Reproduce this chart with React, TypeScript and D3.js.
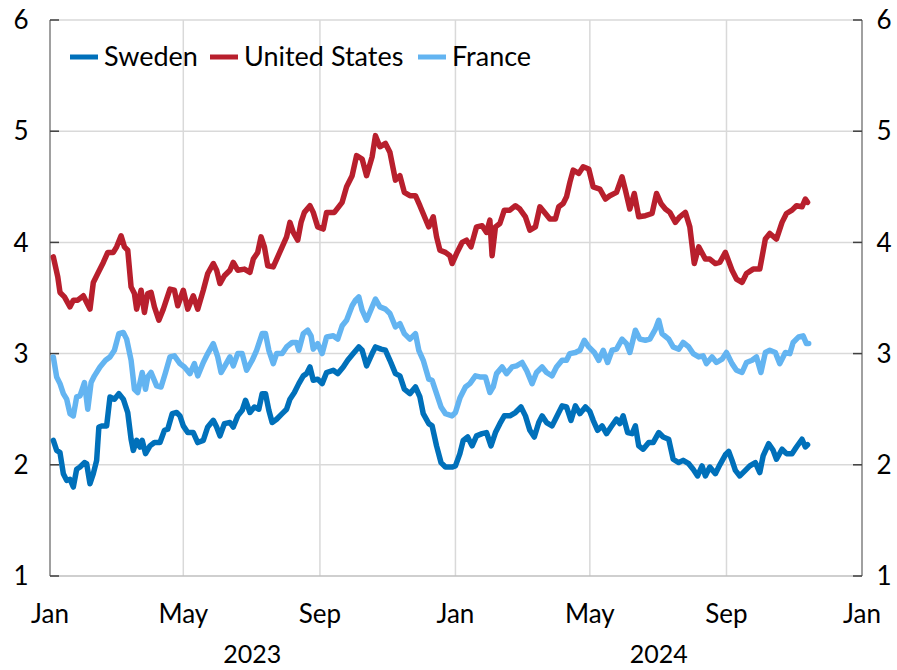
import React from 'react';
import * as d3 from 'd3';

// [days since 1 Jan 2023, percent]
const sweden: [number, number][] = [
  [3, 2.22], [6, 2.13], [9, 2.11], [12, 1.92], [15, 1.86], [18, 1.87], [21, 1.8], [24, 1.96],
  [27, 1.98], [31, 2.02], [33, 2.01], [36, 1.83], [39, 1.92], [42, 2.04], [44, 2.34], [47, 2.35],
  [51, 2.35], [54, 2.61], [58, 2.59], [62, 2.64], [66, 2.59], [70, 2.47], [73, 2.23], [75, 2.13],
  [78, 2.22], [81, 2.16], [83, 2.22], [86, 2.1], [90, 2.17], [94, 2.2], [99, 2.2], [103, 2.31],
  [106, 2.32], [110, 2.46], [114, 2.47], [117, 2.44], [120, 2.35], [124, 2.29], [129, 2.29],
  [133, 2.2], [138, 2.22], [142, 2.34], [147, 2.4], [150, 2.34], [153, 2.26], [157, 2.37],
  [162, 2.38], [165, 2.34], [169, 2.44], [173, 2.49], [176, 2.58], [180, 2.47], [184, 2.52],
  [188, 2.5], [191, 2.64], [194, 2.64], [197, 2.49], [200, 2.38], [204, 2.41], [209, 2.46],
  [213, 2.5], [216, 2.59], [220, 2.65], [224, 2.73], [228, 2.8], [231, 2.82], [234, 2.88],
  [237, 2.76], [241, 2.77], [245, 2.73], [249, 2.83], [255, 2.85], [259, 2.82], [264, 2.88],
  [268, 2.94], [273, 3.0], [278, 3.06], [281, 3.03], [285, 2.89], [290, 3.0], [293, 3.06],
  [298, 3.04], [302, 3.03], [306, 2.94], [311, 2.82], [315, 2.8], [319, 2.68], [324, 2.64],
  [329, 2.7], [333, 2.61], [336, 2.46], [341, 2.37], [344, 2.35], [348, 2.17], [352, 2.02],
  [356, 1.98], [362, 1.98], [365, 1.99], [369, 2.1], [372, 2.22], [376, 2.25], [380, 2.17],
  [384, 2.26], [389, 2.28], [393, 2.29], [397, 2.17], [401, 2.29], [405, 2.37], [409, 2.44],
  [414, 2.44], [419, 2.47], [424, 2.52], [428, 2.44], [432, 2.31], [436, 2.25], [440, 2.38],
  [443, 2.44], [447, 2.38], [452, 2.35], [456, 2.43], [461, 2.53], [465, 2.52], [469, 2.4],
  [473, 2.53], [477, 2.46], [482, 2.52], [486, 2.48], [489, 2.4], [493, 2.31], [497, 2.35],
  [501, 2.28], [505, 2.34], [510, 2.41], [513, 2.37], [516, 2.44], [520, 2.29], [524, 2.28],
  [527, 2.35], [530, 2.17], [534, 2.14], [539, 2.2], [543, 2.2], [548, 2.29], [552, 2.25],
  [557, 2.23], [561, 2.05], [566, 2.02], [570, 2.04], [575, 2.01], [579, 1.96], [583, 1.9],
  [587, 1.99], [590, 1.9], [594, 1.98], [599, 1.92], [603, 2.0], [608, 2.09], [611, 2.12],
  [614, 2.04], [617, 1.95], [621, 1.9], [626, 1.95], [630, 1.99], [635, 2.02], [639, 1.93],
  [642, 2.08], [647, 2.19], [651, 2.13], [654, 2.05], [659, 2.14], [663, 2.1], [668, 2.1],
  [672, 2.16], [677, 2.23], [680, 2.16], [682, 2.18],
];

const unitedStates: [number, number][] = [
  [3, 3.87], [7, 3.69], [9, 3.55], [13, 3.51], [18, 3.42], [21, 3.48], [25, 3.48], [30, 3.52],
  [33, 3.46], [36, 3.4], [39, 3.64], [43, 3.72], [48, 3.82], [52, 3.91], [57, 3.91], [60, 3.96],
  [64, 4.06], [67, 3.96], [70, 3.93], [73, 3.6], [76, 3.54], [78, 3.4], [82, 3.57], [85, 3.37],
  [88, 3.54], [91, 3.55], [94, 3.42], [98, 3.3], [102, 3.4], [108, 3.58], [112, 3.57],
  [115, 3.43], [120, 3.57], [124, 3.4], [129, 3.52], [133, 3.4], [138, 3.57], [142, 3.72],
  [147, 3.81], [150, 3.75], [153, 3.63], [157, 3.7], [162, 3.75], [165, 3.82], [169, 3.75],
  [175, 3.76], [180, 3.73], [183, 3.85], [187, 3.91], [190, 4.05], [193, 3.96], [196, 3.79],
  [201, 3.78], [205, 3.87], [209, 3.96], [213, 4.05], [216, 4.18], [219, 4.09], [223, 4.02],
  [226, 4.18], [229, 4.27], [234, 4.33], [237, 4.27], [241, 4.14], [246, 4.12], [249, 4.27],
  [256, 4.27], [263, 4.36], [267, 4.5], [272, 4.6], [276, 4.78], [281, 4.75], [285, 4.6],
  [290, 4.77], [293, 4.96], [297, 4.86], [302, 4.89], [306, 4.81], [311, 4.56], [315, 4.6],
  [319, 4.45], [324, 4.42], [329, 4.42], [333, 4.33], [338, 4.21], [341, 4.14], [345, 4.23],
  [348, 4.05], [351, 3.93], [356, 3.91], [360, 3.88], [362, 3.81], [366, 3.9], [371, 4.0],
  [375, 4.02], [379, 3.96], [384, 4.14], [389, 4.15], [393, 4.09], [396, 4.2], [398, 3.88],
  [401, 4.14], [405, 4.17], [409, 4.29], [414, 4.29], [419, 4.33], [423, 4.3], [428, 4.23],
  [432, 4.11], [437, 4.14], [441, 4.32], [446, 4.26], [450, 4.21], [455, 4.21], [458, 4.32],
  [462, 4.35], [465, 4.41], [468, 4.54], [471, 4.65], [476, 4.62], [480, 4.68], [485, 4.66],
  [489, 4.5], [495, 4.48], [500, 4.39], [504, 4.42], [510, 4.45], [515, 4.59], [518, 4.47],
  [522, 4.3], [526, 4.44], [530, 4.23], [536, 4.24], [542, 4.26], [546, 4.44], [550, 4.35],
  [554, 4.3], [558, 4.27], [563, 4.18], [567, 4.23], [572, 4.27], [576, 4.14], [580, 3.81],
  [584, 3.96], [590, 3.85], [594, 3.85], [599, 3.81], [603, 3.82], [608, 3.91], [614, 3.75],
  [618, 3.67], [623, 3.64], [627, 3.72], [633, 3.76], [639, 3.76], [644, 4.03], [648, 4.08],
  [654, 4.03], [659, 4.18], [663, 4.26], [668, 4.29], [672, 4.33], [677, 4.32], [680, 4.39],
  [682, 4.36],
];

const france: [number, number][] = [
  [3, 2.97], [6, 2.79], [9, 2.73], [12, 2.64], [15, 2.59], [18, 2.46], [21, 2.44], [24, 2.61],
  [27, 2.62], [31, 2.74], [34, 2.5], [37, 2.74], [40, 2.8], [45, 2.88], [50, 2.94], [54, 2.97],
  [58, 3.03], [62, 3.18], [66, 3.19], [69, 3.13], [73, 2.94], [76, 2.68], [79, 2.65], [83, 2.83],
  [86, 2.68], [88, 2.79], [91, 2.83], [96, 2.71], [100, 2.7], [104, 2.83], [108, 2.97],
  [112, 2.98], [117, 2.91], [121, 2.88], [126, 2.82], [130, 2.91], [133, 2.8], [138, 2.92],
  [142, 3.0], [147, 3.09], [151, 2.97], [154, 2.83], [157, 2.88], [162, 2.97], [165, 2.89],
  [169, 3.0], [173, 3.0], [177, 2.85], [182, 2.94], [186, 3.03], [191, 3.18], [194, 3.18],
  [197, 3.03], [201, 2.91], [204, 3.0], [209, 3.0], [213, 3.06], [218, 3.1], [222, 3.1],
  [224, 3.03], [228, 3.18], [232, 3.21], [235, 3.16], [237, 3.04], [241, 3.09], [245, 3.0],
  [249, 3.15], [255, 3.16], [259, 3.13], [263, 3.25], [267, 3.3], [272, 3.43], [275, 3.48],
  [278, 3.51], [281, 3.39], [285, 3.3], [290, 3.42], [293, 3.49], [297, 3.42], [302, 3.4],
  [306, 3.36], [311, 3.24], [315, 3.27], [319, 3.18], [324, 3.13], [329, 3.18], [332, 3.03],
  [336, 2.94], [341, 2.77], [344, 2.76], [348, 2.64], [352, 2.52], [356, 2.46], [362, 2.44],
  [365, 2.47], [369, 2.6], [374, 2.7], [378, 2.73], [383, 2.8], [387, 2.79], [392, 2.79],
  [396, 2.65], [399, 2.7], [402, 2.82], [407, 2.88], [411, 2.82], [416, 2.88], [420, 2.89],
  [425, 2.92], [429, 2.85], [434, 2.73], [438, 2.83], [443, 2.88], [447, 2.83], [452, 2.8],
  [456, 2.88], [461, 2.94], [465, 2.94], [468, 3.0], [473, 3.01], [477, 3.03], [481, 3.12],
  [485, 3.06], [490, 3.01], [494, 2.94], [498, 3.03], [502, 2.92], [506, 3.03], [510, 3.04],
  [515, 3.13], [519, 3.09], [522, 3.01], [527, 3.21], [531, 3.13], [536, 3.12], [540, 3.13],
  [545, 3.22], [548, 3.3], [551, 3.18], [557, 3.13], [561, 3.06], [566, 3.04], [570, 3.1],
  [575, 3.06], [579, 3.0], [584, 2.97], [588, 2.98], [591, 2.91], [596, 2.97], [600, 2.92],
  [605, 2.95], [609, 3.01], [614, 2.91], [618, 2.85], [623, 2.83], [627, 2.92], [632, 2.94],
  [636, 2.97], [640, 2.83], [644, 3.01], [648, 3.03], [653, 3.01], [657, 2.91], [662, 3.01],
  [666, 3.0], [669, 3.1], [674, 3.15], [678, 3.16], [681, 3.09], [683, 3.09],
];

const seriesNames = ['Sweden', 'United States', 'France'];
const seriesColors = ['#0070ba', '#b81f2d', '#63b4f1'];
const yTicks = [1, 2, 3, 4, 5, 6];
const yearLabels = [2023, 2024];

const W = 897;
const H = 670;
const left = 50;
const right = 862;
const top = 20;
const bottom = 576;
const font = 'Lato, "Noto Sans", sans-serif';

const origin = new Date(2023, 0, 1);

const App = () => {
  const x = d3.scaleTime().domain([origin, new Date(2025, 0, 1)]).range([left, right]);
  const y = d3.scaleLinear().domain([1, 6]).range([bottom, top]);

  const line = d3
    .line<[number, number]>()
    .x(d => x(d3.timeDay.offset(origin, d[0])))
    .y(d => y(d[1]));

  const monthTicks = x.ticks(d3.timeMonth.every(4) as d3.TimeInterval);
  const fmt = d3.timeFormat('%b');
  const data = [sweden, unitedStates, france];
  const legendX = [70, 210, 418];

  return (
    <svg width={W} height={H} style={{ position: 'absolute', left: 0, top: 0, background: '#fff' }}>
      {/* grid */}
      {yTicks.slice(1).map(t => (
        <line key={'gy' + t} x1={left} x2={right} y1={y(t)} y2={y(t)} stroke="#d9d9d9" strokeWidth={1.5} />
      ))}
      {monthTicks.slice(1, -1).map(t => (
        <line key={'gx' + t} x1={x(t)} x2={x(t)} y1={top} y2={bottom} stroke="#d9d9d9" strokeWidth={1.5} />
      ))}
      {/* frame */}
      <line x1={left} x2={right} y1={bottom} y2={bottom} stroke="#bfbfbf" strokeWidth={1.5} />
      <line x1={left} x2={left} y1={top} y2={bottom} stroke="#808080" strokeWidth={1.5} />
      <line x1={right} x2={right} y1={top} y2={bottom} stroke="#808080" strokeWidth={1.5} />
      {yTicks.map(t => (
        <g key={'yt' + t}>
          <line x1={left} x2={left + 9} y1={y(t)} y2={y(t)} stroke="#404040" strokeWidth={1.5} />
          <line x1={right - 9} x2={right} y1={y(t)} y2={y(t)} stroke="#404040" strokeWidth={1.5} />
          <text x={21} y={y(t)} dy="0.35em" textAnchor="middle" fontFamily={font} fontSize={26} fill="#000">
            {t}
          </text>
          <text x={884} y={y(t)} dy="0.35em" textAnchor="middle" fontFamily={font} fontSize={26} fill="#000">
            {t}
          </text>
        </g>
      ))}
      {monthTicks.map(t => (
        <text key={'mx' + t} x={x(t)} y={623} textAnchor="middle" fontFamily={font} fontSize={26} fill="#000">
          {fmt(t)}
        </text>
      ))}
      {yearLabels.map(yr => (
        <text key={'yr' + yr} x={x(new Date(yr, 6, 2))} y={663} textAnchor="middle" fontFamily={font} fontSize={25} fill="#000">
          {yr}
        </text>
      ))}
      {/* series */}
      {data.map((s, i) => (
        <path
          key={seriesNames[i]}
          d={line(s) || ''}
          fill="none"
          stroke={seriesColors[i]}
          strokeWidth={5.5}
          strokeLinejoin="round"
          strokeLinecap="round"
        />
      ))}
      {/* legend */}
      {seriesNames.map((n, i) => (
        <g key={'lg' + n}>
          <line x1={legendX[i]} x2={legendX[i] + 28} y1={57} y2={57} stroke={seriesColors[i]} strokeWidth={5} />
          <text x={legendX[i] + 34} y={57} dy="0.35em" fontFamily={font} fontSize={27} fill="#000">
            {n}
          </text>
        </g>
      ))}
    </svg>
  );
};

export default App;
